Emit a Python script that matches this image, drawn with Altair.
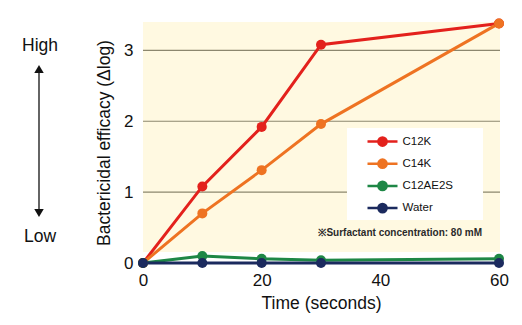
import altair as alt
import pandas as pd

# ---- data ----
times = [0, 10, 20, 30, 60]
series_names = ["C12K", "C14K", "C12AE2S", "Water"]
c12k = [0, 1.08, 1.92, 3.08, 3.38]
c14k = [0, 0.70, 1.31, 1.96, 3.38]
c12ae2s = [0, 0.10, 0.06, 0.04, 0.06]
water = [0, 0, 0, 0, 0]
series_colors = ["#E3211C", "#EE7322", "#1E8746", "#1B2A5E"]
grid_values = [1, 2, 3]
x_ticks = [0, 20, 40, 60]
y_ticks = [0, 1, 2, 3]
x_title = "Time (seconds)"
y_title = "Bactericidal efficacy (Δlog)"
note_text = "※Surfactant concentration: 80 mM"
high_label = "High"
low_label = "Low"

FONT = "Liberation Sans"
W, H = 356, 241

rows = []
for name, vals in zip(series_names, [c12k, c14k, c12ae2s, water]):
    for t, v in zip(times, vals):
        rows.append({"time": t, "value": v, "series": name})
df = pd.DataFrame(rows)
grid_df = pd.DataFrame({"g": grid_values})
one = pd.DataFrame({"k": [0]})

xscale = alt.Scale(domain=[0, 60], nice=False, zero=False)
yscale = alt.Scale(domain=[0, 3.4], nice=False)

legend_path = ("M-2,0L2,0M-0.55,0A0.55,0.55,0,1,1,0.55,0"
               "A0.55,0.55,0,1,1,-0.55,0Z")
legend = alt.Legend(
    title=None, orient="none", legendX=230.5, legendY=110.5,
    padding=0, rowPadding=2.2, labelOffset=11,
    labelFont=FONT, labelFontSize=11.5, labelColor="#111111",
    symbolType=legend_path, symbolSize=225, symbolStrokeWidth=2.5,
    symbolOpacity=1,
)
color = alt.Color("series:N", scale=alt.Scale(domain=series_names, range=series_colors),
                  legend=legend)

xaxis = alt.Axis(values=x_ticks, title=x_title, labelPadding=9, titlePadding=6,
                 labelFlush=False)
yaxis = alt.Axis(values=y_ticks, title=y_title, labelPadding=10, titlePadding=10,
                 labelFlush=False)

bg = alt.Chart(one).mark_rect(color="#FFF9E1").encode(
    x=alt.value(0), x2=alt.value(357), y=alt.value(0), y2=alt.value(230))

grid = alt.Chart(grid_df).mark_rule(color="#8C876E", strokeWidth=1.2).encode(
    y=alt.Y("g:Q", scale=yscale, axis=yaxis), x=alt.value(0), x2=alt.value(357))

box = alt.Chart(one).mark_rect(color="white").encode(
    x=alt.value(204), x2=alt.value(340), y=alt.value(106), y2=alt.value(198))

lines = alt.Chart(df).mark_line(strokeWidth=3).encode(
    x=alt.X("time:Q", scale=xscale, axis=xaxis),
    y=alt.Y("value:Q", scale=yscale, axis=yaxis),
    color=color,
)
points = alt.Chart(df).mark_point(filled=True, size=100, opacity=1).encode(
    x=alt.X("time:Q", scale=xscale, axis=xaxis),
    y=alt.Y("value:Q", scale=yscale, axis=yaxis),
    color=color,
)

note = alt.Chart(one).mark_text(font=FONT, fontSize=10, fontWeight="bold",
                                align="right", baseline="middle", color="#2a2a2a").encode(
    x=alt.value(339), y=alt.value(211), text=alt.value(note_text))

high = alt.Chart(one).mark_text(font=FONT, fontSize=17.5, align="center",
                                baseline="middle", color="#111111").encode(
    x=alt.value(-103), y=alt.value(24), text=alt.value(high_label))
low = alt.Chart(one).mark_text(font=FONT, fontSize=17.5, align="center",
                               baseline="middle", color="#111111").encode(
    x=alt.value(-103), y=alt.value(215), text=alt.value(low_label))
arrow_line = alt.Chart(one).mark_rule(color="#111111", strokeWidth=1.3).encode(
    x=alt.value(-104), y=alt.value(48), y2=alt.value(190))
head_up = alt.Chart(one).mark_point(shape="triangle-up", filled=True, size=90,
                                    color="#111111", opacity=1).encode(
    x=alt.value(-104), y=alt.value(47))
head_down = alt.Chart(one).mark_point(shape="triangle-down", filled=True, size=90,
                                      color="#111111", opacity=1).encode(
    x=alt.value(-104), y=alt.value(191))

chart = alt.layer(bg, grid, box, lines, points, note, high, low,
                  arrow_line, head_up, head_down).properties(
    width=W, height=H,
    autosize=alt.AutoSizeParams(type="none"),
    padding={"left": 143, "top": 22, "right": 23, "bottom": 62},
).configure_view(stroke=None).configure_axis(
    domain=False, ticks=False, grid=False,
    labelFont=FONT, labelFontSize=17, labelColor="#111111",
    titleFont=FONT, titleFontSize=17.5, titleFontWeight="normal", titleColor="#111111",
)

chart.save("out.html", embed_options={"renderer": "svg", "actions": False})
